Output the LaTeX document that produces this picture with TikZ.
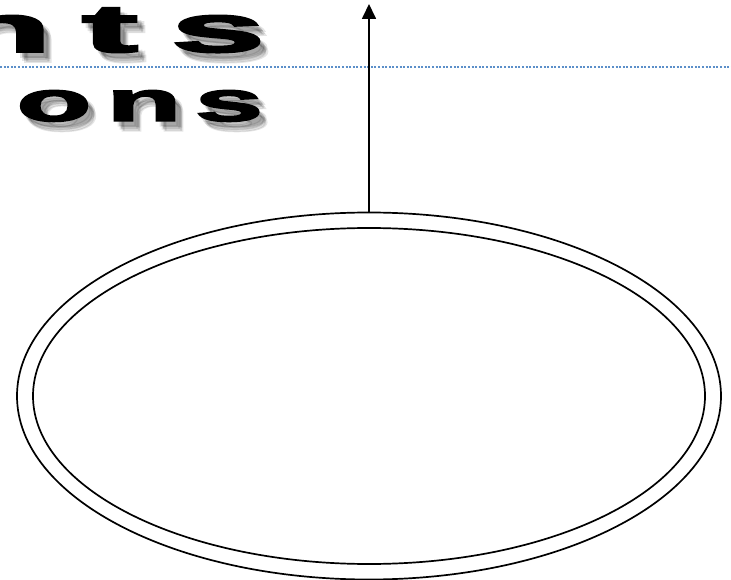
\documentclass[tikz,border=0pt]{standalone}
\usepackage{fontspec}
\usetikzlibrary{shapes.geometric,arrows.meta}
\newfontfamily\heavy{Liberation Sans Bold}[FakeBold=2.5]
\definecolor{dotblue}{RGB}{91,143,201}
\tikzset{
  letter/.style={anchor=base, inner sep=0pt, font=\heavy},
  shade/.style={letter, text=black, opacity=0.1},
  ring/.style={ellipse, draw=black, line width=1.7pt, inner sep=0pt},
}
\newcommand{\wideletter}[6]{% name, x, y, size, xscale, char
  \foreach \dx/\dy in {4/5,6/8,8/10,7/6}{
    \node[shade, font=\heavy\fontsize{#4}{#4}\selectfont] at ({#2+\dx},{#3+\dy}) {\scalebox{#5}[1]{#6}};
  }
  \node[letter, font=\heavy\fontsize{#4}{#4}\selectfont] (#1) at (#2,#3) {\scalebox{#5}[1]{#6}};
}
\begin{document}
\begin{tikzpicture}[x=1pt,y=-1pt]
\useasboundingbox (0,0) rectangle (731,580);
\clip (0,0) rectangle (731,580);
% title letters
\wideletter{n1}{0}{52}{68}{2.5}{n}
\wideletter{t1}{110}{52}{68}{2.5}{t}
\wideletter{s1}{218}{52}{68}{2.5}{s}
\wideletter{o2}{54}{121}{57}{2.15}{o}
\wideletter{n2}{144}{121}{57}{2.15}{n}
\wideletter{s2}{229}{121}{57}{2.15}{s}
% dotted rule
\coordinate (ruleL) at (0,67);
\coordinate (ruleR) at (731,67);
\draw[dotblue, line width=1.5pt, dash pattern=on 2pt off 1.6pt] (ruleL) -- (ruleR);
% ellipses
\node[ring, minimum width=704pt, minimum height=367pt] (outer) at (369,396) {};
\node[ring, minimum width=672pt, minimum height=336pt] (inner) at (369,396) {};
% arrow
\coordinate (top) at (369,4);
\draw[line width=1.7pt, -{Triangle[length=15pt,width=14pt]}] (outer.north) -- (top);
\end{tikzpicture}
\end{document}
